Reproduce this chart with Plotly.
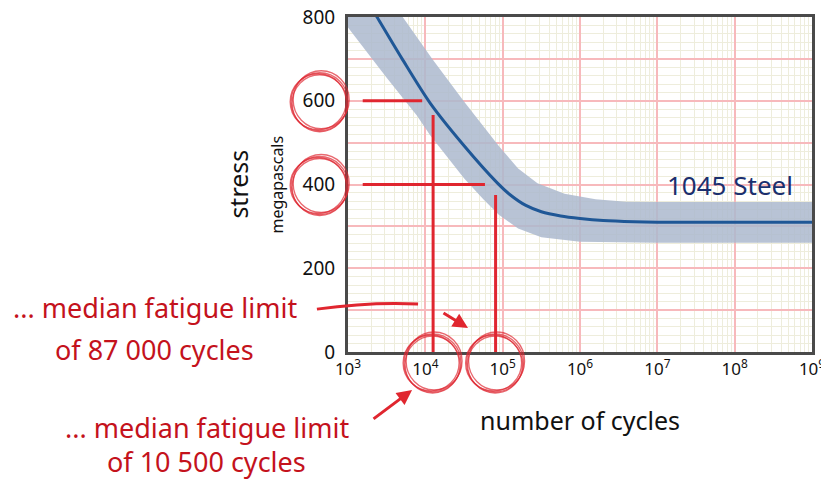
import math
import plotly.graph_objects as go

# S-N curve (exponents of 10 for cycles, stress in MPa)
median_exp = [3.2, 3.375, 3.7, 4.06, 4.49, 4.93, 5.1, 5.3, 5.5, 5.75, 6.0, 6.3, 6.7, 7.0, 8.0, 9.0]
median_mpa = [854, 800, 700, 595, 495, 404, 375, 350, 335, 325, 319, 314, 311, 310, 310, 310]

upper_exp = [3.0, 3.7, 4.09, 4.5, 4.95, 5.2, 5.45, 5.8, 6.2, 6.6, 7.0, 9.0]
upper_mpa = [985, 800, 700, 598, 492, 438, 403, 378, 365, 359, 358, 358]

lower_exp = [3.0, 3.5, 3.89, 4.06, 4.5, 4.75, 4.95, 5.2, 5.5, 6.0, 7.0, 9.0]
lower_mpa = [775, 655, 565, 518, 415, 365, 328, 295, 274, 263, 261, 261]

# marked stress levels and where they cross the curve
marked_mpa = [600, 400]
marked_cycles = [12600, 81000]
marked_line_from = 1550
marked_line_to = [9100, 59000]
marked_drop_top = [566, 375]

x_ticks = [1e3, 1e4, 1e5, 1e6, 1e7, 1e8, 1e9]
x_ticktext = ["10<sup>%d</sup>" % e for e in range(3, 10)]
y_ticks = [0, 100, 200, 300, 400, 500, 600, 700, 800]
y_ticktext = ["0", "", "200", "", "400", "", "600", "", "800"]

font = "Noto Sans"
red = "#e0262f"
text_red = "#c4121c"

fig = go.Figure()

band_x = [10 ** e for e in upper_exp] + [10 ** e for e in lower_exp[::-1]]
band_y = upper_mpa + lower_mpa[::-1]
fig.add_trace(go.Scatter(
    x=band_x, y=band_y, fill="toself", mode="lines",
    line=dict(width=0), fillcolor="rgba(171,184,206,0.85)",
    hoverinfo="skip", showlegend=False,
))
fig.add_trace(go.Scatter(
    x=[10 ** e for e in median_exp], y=median_mpa, mode="lines",
    line=dict(color="#1f5796", width=3, shape="spline", smoothing=0.8),
    showlegend=False,
))

for s, n, end, top in zip(marked_mpa, marked_cycles, marked_line_to, marked_drop_top):
    fig.add_trace(go.Scatter(
        x=[marked_line_from, end], y=[s, s], mode="lines",
        line=dict(color=red, width=3), showlegend=False, hoverinfo="skip",
    ))
    fig.add_trace(go.Scatter(
        x=[n, n], y=[top, 0], mode="lines",
        line=dict(color=red, width=3), showlegend=False, hoverinfo="skip",
    ))

# sketchy circles round the marked ticks
wobble = [(-29, 28, -30, 28), (-27, 29, -28, 30), (-30, 26, -29, 27), (-28, 27, -31, 26)]
circle_line = dict(color="rgba(222,40,50,0.7)", width=1.3)
circles = []
for s in marked_mpa:
    for a, b, c, d in wobble:
        circles.append(dict(
            type="circle", xref="paper", yref="y",
            xsizemode="pixel", ysizemode="pixel", xanchor=-0.06, yanchor=s,
            x0=a, x1=b, y0=c, y1=d, line=circle_line,
        ))
for n in marked_cycles:
    for a, b, c, d in wobble:
        circles.append(dict(
            type="circle", xref="paper", yref="paper",
            xsizemode="pixel", ysizemode="pixel",
            xanchor=(math.log10(n) - 3) / 6, yanchor=0,
            x0=a, x1=b, y0=c - 10, y1=d - 10, line=circle_line,
        ))

stroke = dict(
    type="path", xref="paper", yref="paper",
    path="M -0.067,0.128 Q 0.05,0.150 0.151,0.143",
    line=dict(color=red, width=3),
)

annotations = [
    dict(text="... median fatigue limit", x=-0.416, y=0.134),
    dict(text="of 87 000 cycles", x=-0.416, y=0.006),
    dict(text="... median fatigue limit", x=-0.304, y=-0.224),
    dict(text="of 10 500 cycles", x=-0.304, y=-0.328),
]
for a in annotations:
    a.update(xref="paper", yref="paper", showarrow=False,
             xanchor="center", yanchor="middle",
             font=dict(family=font, size=27, color=text_red))

annotations += [
    dict(x=0.2586, y=0.0716, ax=-26, ay=-16, xref="paper", yref="paper",
         showarrow=True, arrowhead=2, arrowsize=1, arrowwidth=3, arrowcolor=red, text=""),
    dict(x=0.138, y=-0.1134, ax=-40, ay=30, xref="paper", yref="paper",
         showarrow=True, arrowhead=2, arrowsize=1, arrowwidth=3, arrowcolor=red, text=""),
    dict(text="number of cycles", x=0.5, y=-0.203, xanchor="center", yanchor="middle",
         xref="paper", yref="paper", showarrow=False,
         font=dict(family=font, size=25, color="#111")),
    dict(text="stress", x=-0.239, y=0.5, textangle=-90, xanchor="center", yanchor="middle",
         xref="paper", yref="paper", showarrow=False,
         font=dict(family=font, size=25, color="#111")),
    dict(text="megapascals", x=-0.155, y=0.5, textangle=-90, xanchor="center", yanchor="middle",
         xref="paper", yref="paper", showarrow=False,
         font=dict(family=font, size=16, color="#111")),
    dict(text="1045 Steel", x=7.94, y=400, xref="x", yref="y", showarrow=False,
         font=dict(family=font, size=26, color="#1b2f6e")),
]

# the page body adds an 8px offset, so margins are trimmed to keep the plot in place
fig.update_layout(
    width=829, height=484,
    margin=dict(l=340, r=25, t=9, b=140),
    paper_bgcolor="white", plot_bgcolor="white",
    shapes=circles + [stroke],
    annotations=annotations,
    font=dict(family=font, color="#111"),
)
fig.update_xaxes(
    type="log", range=[3, 9], automargin=False,
    tickvals=x_ticks, ticktext=x_ticktext,
    tickfont=dict(size=17), ticklabeloverflow="allow",
    showgrid=True, gridcolor="#f7b9bc", gridwidth=1.5,
    minor=dict(dtick="D1", showgrid=True, gridcolor="#eeeddc", gridwidth=1),
    showline=True, mirror=True, linecolor="#4a4a4a", linewidth=3,
    zeroline=False,
)
fig.update_yaxes(
    range=[0, 800], automargin=False,
    tickvals=y_ticks, ticktext=y_ticktext,
    tickfont=dict(size=19), ticklabeloverflow="allow",
    showgrid=True, gridcolor="#f7b9bc", gridwidth=1.5,
    minor=dict(dtick=20, showgrid=True, gridcolor="#eeeddc", gridwidth=1),
    showline=True, mirror=True, linecolor="#4a4a4a", linewidth=3,
    zeroline=False, ticklabelstandoff=6,
)

fig.write_html("out.html")
